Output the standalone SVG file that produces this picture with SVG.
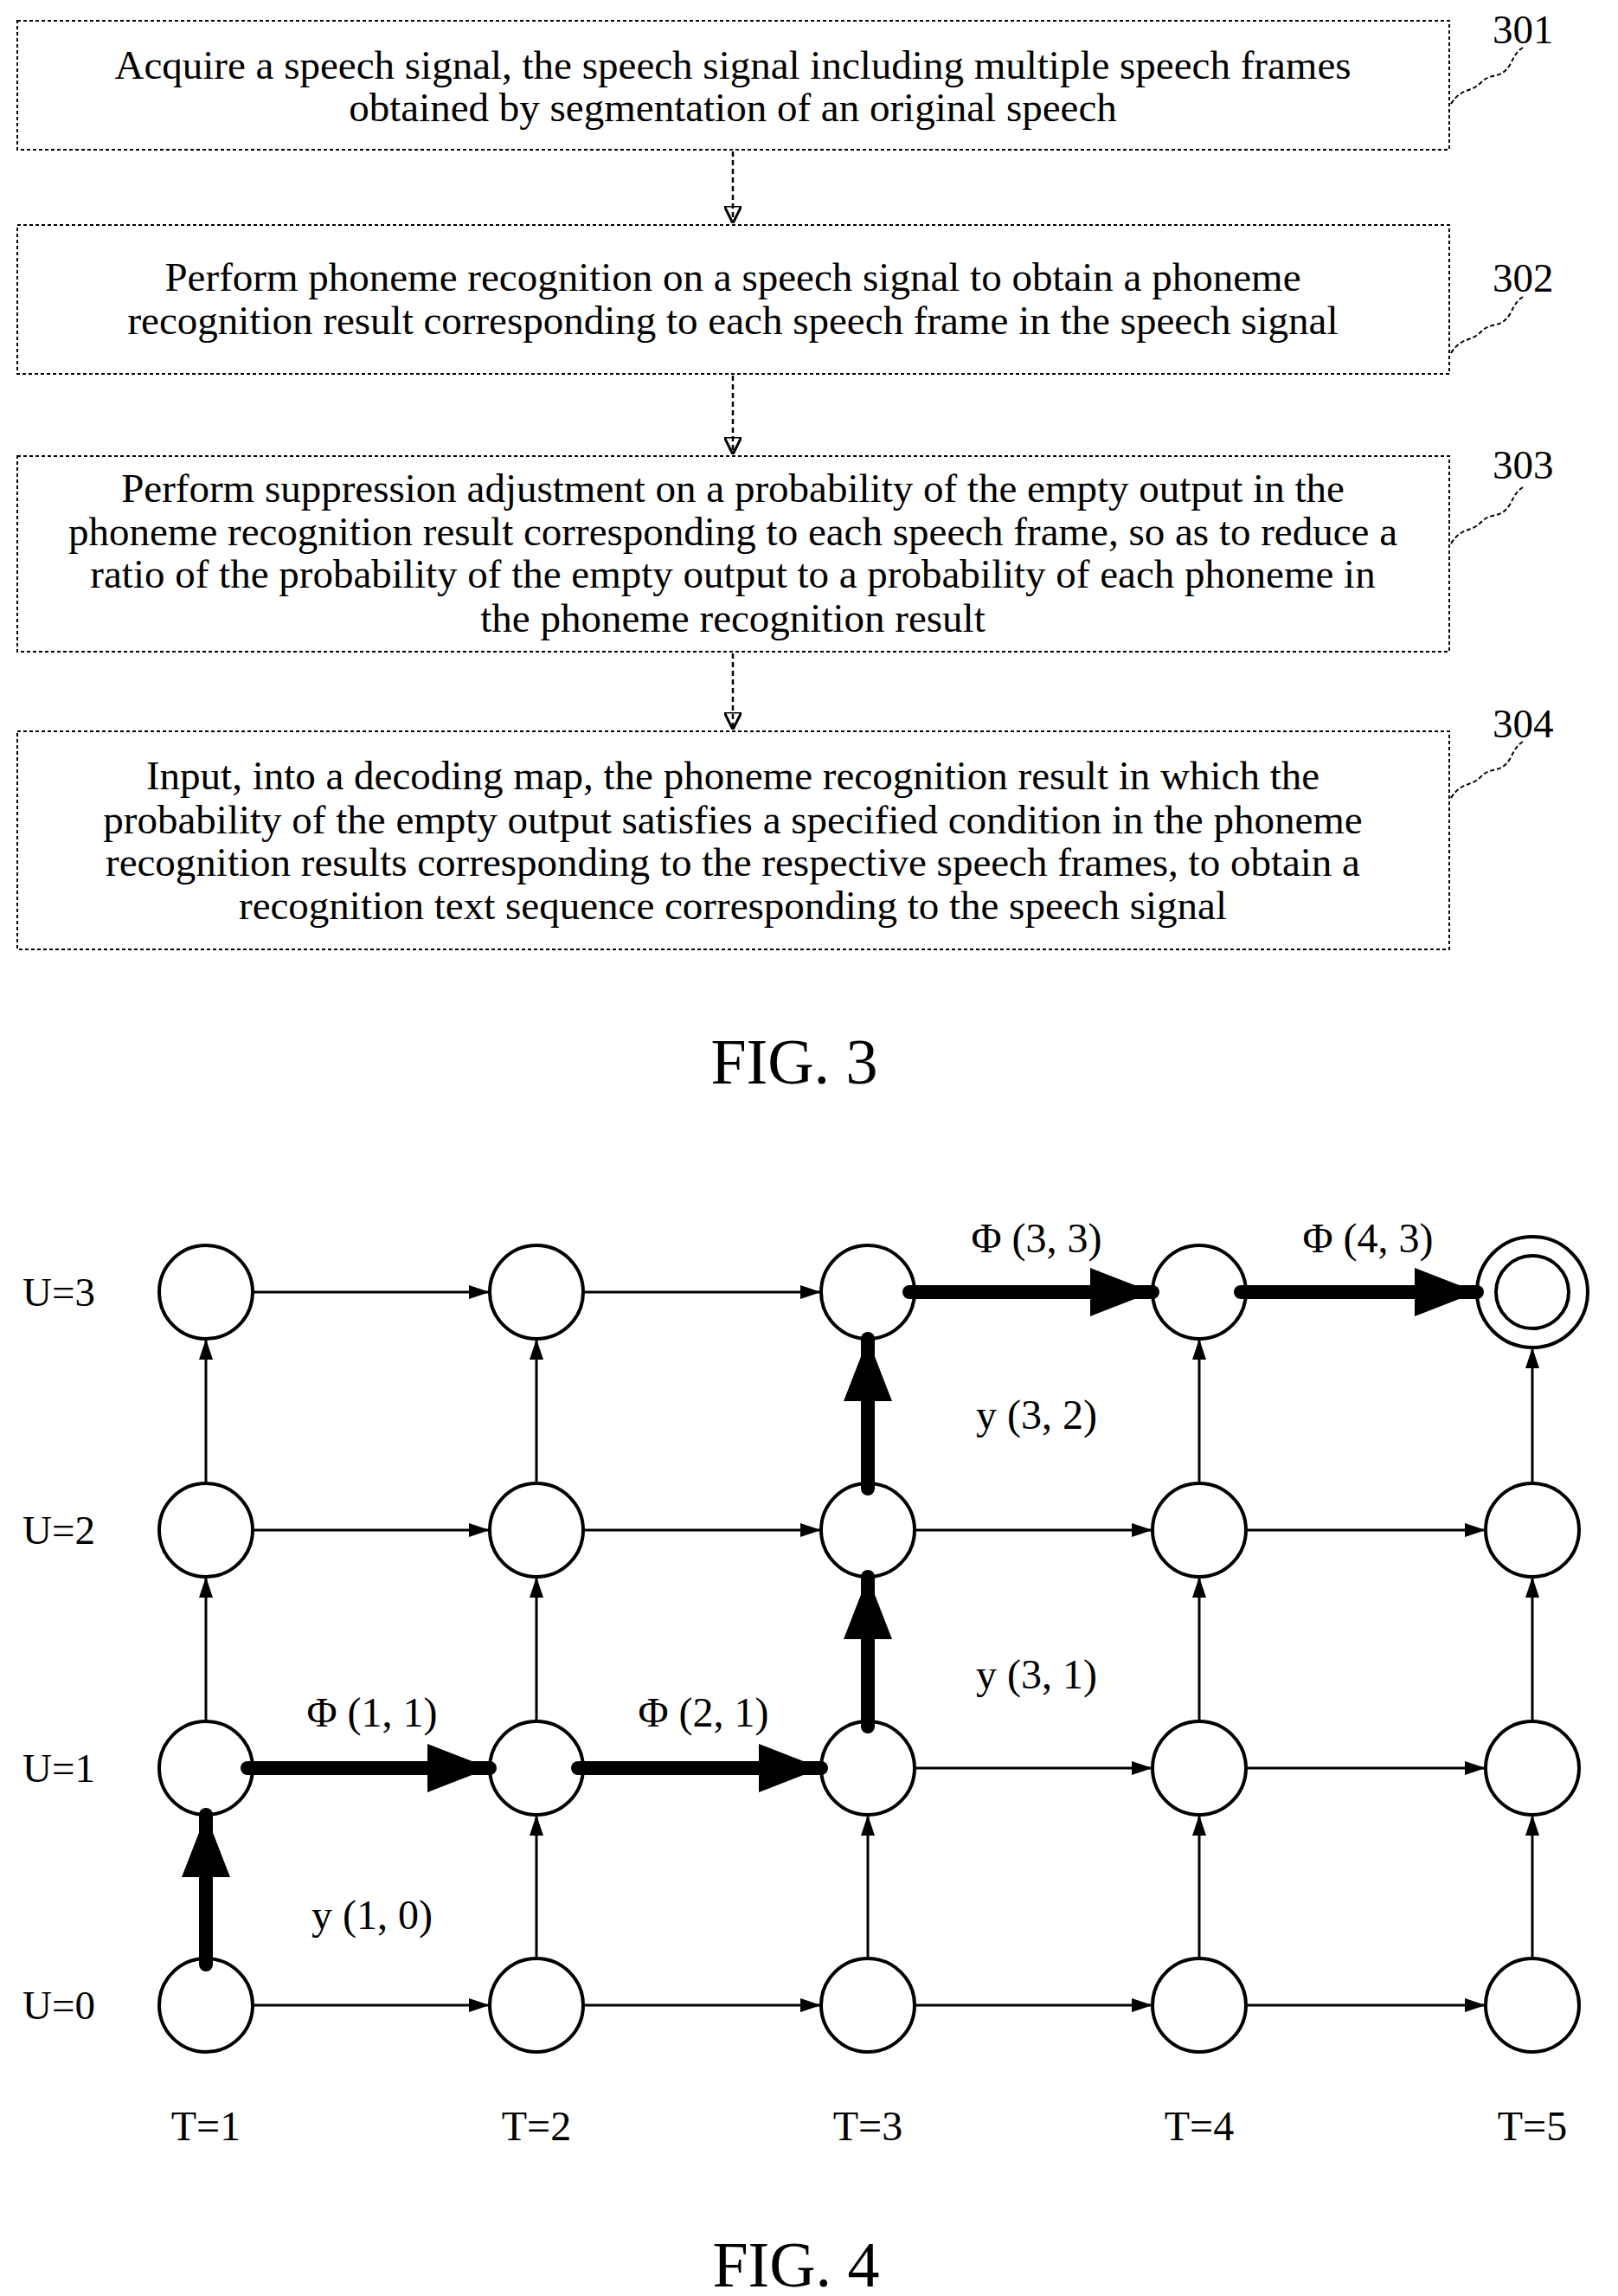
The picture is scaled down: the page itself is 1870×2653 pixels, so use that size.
<svg xmlns="http://www.w3.org/2000/svg" width="1870" height="2653" viewBox="0 0 1870 2653">
<style>
.box{fill:#fff;stroke:#000;stroke-width:2;stroke-dasharray:4 3}
.t{font-family:"Liberation Serif",serif;font-size:47px;text-anchor:middle;fill:#000}
.lbl{font-family:"Liberation Serif",serif;font-size:47px;fill:#000}
.fig{font-family:"Liberation Serif",serif;font-size:74px;text-anchor:middle}
.sq{fill:none;stroke:#000;stroke-width:2;stroke-dasharray:5 3}
.da{stroke:#000;stroke-width:2.5;stroke-dasharray:6 4;marker-end:url(#dh)}
.n{fill:#fff;stroke:#000;stroke-width:4}
.e{stroke:#000;stroke-width:3;marker-end:url(#ah)}
.b{stroke:#000;stroke-width:16;stroke-linecap:round;marker-end:url(#bh)}
.g{font-family:"Liberation Serif",serif;font-size:48px;text-anchor:middle}
</style>
<defs>
<marker id="ah" viewBox="0 0 10 10" refX="10" refY="5" markerWidth="24" markerHeight="16" markerUnits="userSpaceOnUse" orient="auto" preserveAspectRatio="none"><path d="M0,0 L10,5 L0,10 Z"/></marker>
<marker id="bh" viewBox="0 0 10 10" refX="10" refY="5" markerWidth="72" markerHeight="56" markerUnits="userSpaceOnUse" orient="auto" preserveAspectRatio="none"><path d="M0,0 L10,5 L0,10 Z"/></marker>
<marker id="dh" viewBox="0 0 10 10" refX="10" refY="5" markerWidth="20" markerHeight="20" markerUnits="userSpaceOnUse" orient="auto"><path d="M0,0 L10,5 L0,10 Z" fill="none" stroke="#000" stroke-width="1.5"/></marker>
</defs>
<g id="step301"><rect class="box" x="20" y="24" width="1655" height="149"/>
<text class="t" x="847" y="91">Acquire a speech signal, the speech signal including multiple speech frames</text>
<text class="t" x="847" y="140">obtained by segmentation of an original speech</text>
<path class="sq" d="M1677,120 C1690,100 1700,108 1712,95 C1722,84 1735,92 1745,75 C1750,66 1752,60 1760,55"/>
<text class="lbl" x="1725" y="50">301</text></g>
<g id="step302"><rect class="box" x="20" y="260" width="1655" height="172"/>
<text class="t" x="847" y="336">Perform phoneme recognition on a speech signal to obtain a phoneme</text>
<text class="t" x="847" y="386">recognition result corresponding to each speech frame in the speech signal</text>
<path class="sq" d="M1677,408 C1690,388 1700,396 1712,383 C1722,372 1735,380 1745,363 C1750,354 1752,348 1760,343"/>
<text class="lbl" x="1725" y="337">302</text></g>
<g id="step303"><rect class="box" x="20" y="527" width="1655" height="226"/>
<text class="t" x="847" y="580">Perform suppression adjustment on a probability of the empty output in the</text>
<text class="t" x="847" y="630">phoneme recognition result corresponding to each speech frame, so as to reduce a</text>
<text class="t" x="847" y="679">ratio of the probability of the empty output to a probability of each phoneme in</text>
<text class="t" x="847" y="730">the phoneme recognition result</text>
<path class="sq" d="M1677,628 C1690,608 1700,616 1712,603 C1722,592 1735,600 1745,583 C1750,574 1752,568 1760,563"/>
<text class="lbl" x="1725" y="553">303</text></g>
<g id="step304"><rect class="box" x="20" y="845" width="1655" height="252"/>
<text class="t" x="847" y="912">Input, into a decoding map, the phoneme recognition result in which the</text>
<text class="t" x="847" y="963">probability of the empty output satisfies a specified condition in the phoneme</text>
<text class="t" x="847" y="1012">recognition results corresponding to the respective speech frames, to obtain a</text>
<text class="t" x="847" y="1062">recognition text sequence corresponding to the speech signal</text>
<path class="sq" d="M1677,922 C1690,902 1700,910 1712,897 C1722,886 1735,894 1745,877 C1750,868 1752,862 1760,857"/>
<text class="lbl" x="1725" y="852">304</text></g>
<g id="flow">
<line class="da" x1="847" y1="175" x2="847" y2="258"/>
<line class="da" x1="847" y1="434" x2="847" y2="525"/>
<line class="da" x1="847" y1="755" x2="847" y2="843"/>
</g>
<text class="fig" x="918" y="1252">FIG. 3</text>

<g id="thin-edges">
<line class="e" x1="292" y1="1493" x2="566" y2="1493"/>
<line class="e" x1="674" y1="1493" x2="949" y2="1493"/>
<line class="e" x1="292" y1="1768" x2="566" y2="1768"/>
<line class="e" x1="674" y1="1768" x2="949" y2="1768"/>
<line class="e" x1="1057" y1="1768" x2="1332" y2="1768"/>
<line class="e" x1="1440" y1="1768" x2="1717" y2="1768"/>
<line class="e" x1="1057" y1="2043" x2="1332" y2="2043"/>
<line class="e" x1="1440" y1="2043" x2="1717" y2="2043"/>
<line class="e" x1="292" y1="2317" x2="566" y2="2317"/>
<line class="e" x1="674" y1="2317" x2="949" y2="2317"/>
<line class="e" x1="1057" y1="2317" x2="1332" y2="2317"/>
<line class="e" x1="1440" y1="2317" x2="1717" y2="2317"/>
<line class="e" x1="238" y1="1714" x2="238" y2="1547"/>
<line class="e" x1="238" y1="1989" x2="238" y2="1822"/>
<line class="e" x1="620" y1="1714" x2="620" y2="1547"/>
<line class="e" x1="620" y1="1989" x2="620" y2="1822"/>
<line class="e" x1="620" y1="2263" x2="620" y2="2097"/>
<line class="e" x1="1003" y1="2263" x2="1003" y2="2097"/>
<line class="e" x1="1386" y1="1714" x2="1386" y2="1547"/>
<line class="e" x1="1386" y1="1989" x2="1386" y2="1822"/>
<line class="e" x1="1386" y1="2263" x2="1386" y2="2097"/>
<line class="e" x1="1771" y1="1714" x2="1771" y2="1557"/>
<line class="e" x1="1771" y1="1989" x2="1771" y2="1822"/>
<line class="e" x1="1771" y1="2263" x2="1771" y2="2097"/>
</g>
<g id="nodes">
<circle class="n" cx="238" cy="1493" r="54"/><circle class="n" cx="620" cy="1493" r="54"/><circle class="n" cx="1003" cy="1493" r="54"/><circle class="n" cx="1386" cy="1493" r="54"/>
<g id="final"><circle class="n" cx="1771" cy="1493" r="64"/><circle class="n" cx="1771" cy="1493" r="42"/></g>
<circle class="n" cx="238" cy="1768" r="54"/><circle class="n" cx="620" cy="1768" r="54"/><circle class="n" cx="1003" cy="1768" r="54"/><circle class="n" cx="1386" cy="1768" r="54"/><circle class="n" cx="1771" cy="1768" r="54"/>
<circle class="n" cx="238" cy="2043" r="54"/><circle class="n" cx="620" cy="2043" r="54"/><circle class="n" cx="1003" cy="2043" r="54"/><circle class="n" cx="1386" cy="2043" r="54"/><circle class="n" cx="1771" cy="2043" r="54"/>
<circle class="n" cx="238" cy="2317" r="54"/><circle class="n" cx="620" cy="2317" r="54"/><circle class="n" cx="1003" cy="2317" r="54"/><circle class="n" cx="1386" cy="2317" r="54"/><circle class="n" cx="1771" cy="2317" r="54"/>
</g>
<g id="thick-edges">
<line class="b" x1="238" y1="2270" x2="238" y2="2097"/>
<line class="b" x1="286" y1="2043" x2="566" y2="2043"/>
<line class="b" x1="668" y1="2043" x2="949" y2="2043"/>
<line class="b" x1="1003" y1="1995" x2="1003" y2="1822"/>
<line class="b" x1="1003" y1="1720" x2="1003" y2="1547"/>
<line class="b" x1="1051" y1="1493" x2="1332" y2="1493"/>
<line class="b" x1="1434" y1="1493" x2="1707" y2="1493"/>
</g>
<g id="labels">
<text class="lbl" x="26" y="1509">U=3</text>
<text class="lbl" x="26" y="1784">U=2</text>
<text class="lbl" x="26" y="2059">U=1</text>
<text class="lbl" x="26" y="2333">U=0</text>
<text class="g" x="238" y="2473">T=1</text>
<text class="g" x="620" y="2473">T=2</text>
<text class="g" x="1003" y="2473">T=3</text>
<text class="g" x="1386" y="2473">T=4</text>
<text class="g" x="1771" y="2473">T=5</text>
<text class="g" x="1198" y="1447">Φ (3, 3)</text>
<text class="g" x="1581" y="1447">Φ (4, 3)</text>
<text class="g" x="1198" y="1651">y (3, 2)</text>
<text class="g" x="1198" y="1951">y (3, 1)</text>
<text class="g" x="430" y="1995">Φ (1, 1)</text>
<text class="g" x="813" y="1995">Φ (2, 1)</text>
<text class="g" x="430" y="2229">y (1, 0)</text>
</g>
<text class="fig" x="920" y="2642">FIG. 4</text>
</svg>
